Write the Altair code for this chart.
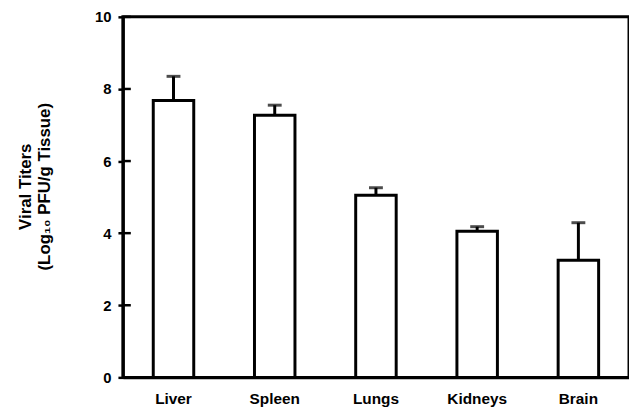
import altair as alt
import pandas as pd

tissues = ["Liver", "Spleen", "Lungs", "Kidneys", "Brain"]
titers = [7.68, 7.27, 5.05, 4.05, 3.25]
upper = [8.35, 7.55, 5.26, 4.18, 4.29]
y_ticks = [0, 2, 4, 6, 8, 10]

df = pd.DataFrame({"tissue": tissues, "titer": titers, "upper": upper})
ticks_df = pd.DataFrame({"t": y_ticks})

FONT = "Liberation Sans"

x_scale = alt.Scale(paddingInner=0.6, paddingOuter=0.3)
y_scale = alt.Scale(domain=[0, 10], nice=False)

base = alt.Chart(df)

bars = base.mark_bar(fill="white", stroke="black", strokeWidth=3).encode(
    x=alt.X("tissue:N", sort=tissues, scale=x_scale,
            axis=alt.Axis(title=None, labelAngle=0, labelPadding=14, ticks=False,
                          labelFontSize=15.5, domain=True, domainWidth=3,
                          domainColor="black", zindex=2)),
    y=alt.Y("titer:Q", scale=y_scale,
            axis=alt.Axis(values=y_ticks, title=["Viral Titers", "(Log₁₀ PFU/g Tissue)"],
                          titleFontSize=17, titleAngle=-90, titleAlign="center",
                          titleBaseline="top", titleX=-106, titleY=171, titleLineHeight=19,
                          labelFontSize=15, labelPadding=7, tickWidth=2.5, tickSize=5,
                          domain=True, domainWidth=3, domainColor="black", zindex=2,
                          grid=False)),
)

err = base.mark_rule(color="black", strokeWidth=3).encode(
    x=alt.X("tissue:N", sort=tissues, scale=x_scale),
    y=alt.Y("titer:Q", scale=y_scale),
    y2="upper:Q",
)

caps = base.mark_tick(color="black", thickness=3, size=14, orient="horizontal").encode(
    x=alt.X("tissue:N", sort=tissues, scale=x_scale),
    y=alt.Y("upper:Q", scale=y_scale),
)

inner_ticks = alt.Chart(ticks_df).mark_rule(color="black", strokeWidth=2.5).encode(
    y=alt.Y("t:Q", scale=y_scale),
    x=alt.value(0),
    x2=alt.value(8),
)

chart = alt.layer(bars, err, caps, inner_ticks).properties(
    width=511, height=364,
    background="white",
    autosize=alt.AutoSizeParams(type="none"),
    padding={"left": 116, "top": 7, "right": 0, "bottom": 30},
).configure_view(
    stroke="black", strokeWidth=3
).configure_axis(
    domainColor="black", domainWidth=3, tickColor="black", grid=False,
    labelFont=FONT, labelFontWeight="bold", labelColor="black",
    titleFont=FONT, titleFontWeight="bold", titleColor="black",
)

chart.save("out.html", embed_options={"renderer": "svg", "actions": False})
